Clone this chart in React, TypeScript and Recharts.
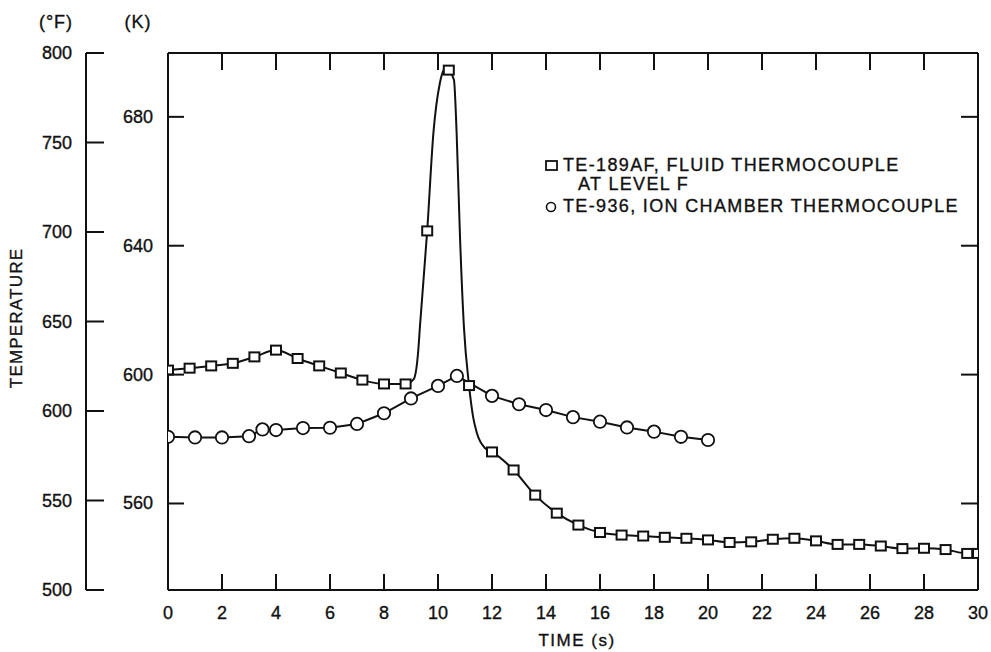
import React from 'react';
import { LineChart, Line, XAxis, YAxis, Legend } from 'recharts';

const FONT = "'Liberation Sans', Arial, Helvetica, sans-serif";

// TE-189AF fluid thermocouple, marked points (time s, temperature K)
const fluidTime = [0, 0.8, 1.6, 2.4, 3.2, 4.0, 4.8, 5.6, 6.4, 7.2, 8.0, 8.8, 9.6, 10.4, 11.15, 12.0, 12.8, 13.6, 14.4, 15.2, 16.0, 16.8, 17.6, 18.4, 19.2, 20.0, 20.8, 21.6, 22.4, 23.2, 24.0, 24.8, 25.6, 26.4, 27.2, 28.0, 28.8, 29.6, 30.0];
const fluidTemp = [601.4, 602.0, 602.7, 603.5, 605.5, 607.6, 605.0, 602.7, 600.5, 598.3, 597.1, 597.1, 644.6, 694.5, 596.6, 576.0, 570.4, 562.6, 557.0, 553.3, 551.0, 550.2, 549.9, 549.5, 549.2, 548.7, 547.9, 548.1, 548.9, 549.2, 548.4, 547.3, 547.3, 546.8, 546.0, 546.1, 545.7, 544.5, 544.5];

// extra readings of the drawn trace between the marks (spike region)
const fluidTraceTime = [9.1, 9.27, 9.33, 9.83, 10.07, 10.3, 10.59, 10.69, 10.81, 10.96, 11.3, 11.44, 11.74];
const fluidTraceTemp = [598.6, 607.6, 614.8, 675.0, 690.5, 695.3, 691.5, 675.0, 643.9, 614.8, 586.9, 581.9, 577.2];

// TE-936 ion chamber thermocouple
const ionTime = [0, 1, 2, 3, 3.5, 4, 5, 6, 7, 8, 9, 10, 10.7, 12, 13, 14, 15, 16, 17, 18, 19, 20];
const ionTemp = [580.7, 580.5, 580.5, 580.9, 583.0, 582.8, 583.4, 583.5, 584.7, 588.0, 592.6, 596.5, 599.6, 593.4, 590.8, 589.0, 586.8, 585.4, 583.6, 582.3, 580.7, 579.7];

const timeTicks = [0, 2, 4, 6, 8, 10, 12, 14, 16, 18, 20, 22, 24, 26, 28, 30];
const kelvinTicks = [560, 600, 640, 680];
const fahrenheitTicks = [500, 550, 600, 650, 700, 750, 800];

const fluidName = 'TE-189AF, FLUID THERMOCOUPLE';
const fluidName2 = 'AT LEVEL F';
const ionName = 'TE-936, ION CHAMBER THERMOCOUPLE';

// 500 F .. 800 F expressed in kelvin
const kMin = (500 - 32) * 5 / 9 + 273.15;
const kMax = (800 - 32) * 5 / 9 + 273.15;

const fluidMarks = fluidTime.map((t, i) => ({ time: t, temp: fluidTemp[i] }));
const fluidTrace = [
  ...fluidMarks,
  ...fluidTraceTime.map((t, i) => ({ time: t, temp: fluidTraceTemp[i] })),
].sort((a, b) => a.time - b.time);
const ionData = ionTime.map((t, i) => ({ time: t, temp: ionTemp[i] }));

const INK = '#111';
const txt = { fontFamily: FONT, fontSize: 18, fill: INK, stroke: INK, strokeWidth: 0.35 };

const FTick = (props: any) => {
  const { x, y, payload } = props;
  return (
    <g>
      <line x1={x} y1={y} x2={x + 18} y2={y} stroke={INK} strokeWidth={2} />
      <text x={x - 14} y={y} dy={6} textAnchor="end" {...txt}>{payload.value}</text>
    </g>
  );
};

const KTick = (props: any) => {
  const { x, y, payload } = props;
  return (
    <g>
      <line x1={x} y1={y} x2={x + 16} y2={y} stroke={INK} strokeWidth={2} />
      <text x={x - 15} y={y} dy={6} textAnchor="end" {...txt}>{payload.value}</text>
    </g>
  );
};

const TimeTick = (props: any) => {
  const { x, y, payload } = props;
  return (
    <g>
      <line x1={x} y1={y} x2={x} y2={y - 16} stroke={INK} strokeWidth={2} />
      <text x={x} y={y + 29} textAnchor="middle" {...txt}>{payload.value}</text>
    </g>
  );
};

// plain inward tick marks for the top and right frame edges
const TopTick = (props: any) => {
  const { x, y } = props;
  return <line x1={x} y1={y} x2={x} y2={y + 17} stroke={INK} strokeWidth={2} />;
};

const RightTick = (props: any) => {
  const { x, y } = props;
  return <line x1={x} y1={y} x2={x - 17} y2={y} stroke={INK} strokeWidth={2} />;
};

const squareDot = (props: any) => {
  const { cx, cy, index } = props;
  if (cx == null || cy == null) return <g key={`sq-${index}`} />;
  return <rect key={`sq-${index}`} x={cx - 5} y={cy - 4.5} width={10} height={9} fill="#fff" stroke={INK} strokeWidth={2} />;
};

const circleDot = (props: any) => {
  const { cx, cy, index } = props;
  if (cx == null || cy == null) return <g key={`ci-${index}`} />;
  return <circle key={`ci-${index}`} cx={cx} cy={cy} r={6.2} fill="#fff" stroke={INK} strokeWidth={1.8} />;
};

const LegendBox = (props: any) => {
  const items = (props.payload || []).filter((p: any) => p.value);
  return (
    <div style={{ fontFamily: FONT, fontSize: 18, letterSpacing: 1.35, color: INK, lineHeight: '19px', WebkitTextStroke: '0.35px #111' }}>
      {items.map((p: any) => (
        <div key={p.value} style={{ display: 'flex', alignItems: 'flex-start', marginBottom: 3 }}>
          <svg width={20} height={19} style={{ flex: 'none' }}>
            {p.value === fluidName
              ? <rect x={3} y={5} width={11} height={9} fill="none" stroke={INK} strokeWidth={1.8} />
              : <circle cx={8} cy={10} r={4.5} fill="none" stroke={INK} strokeWidth={1.6} />}
          </svg>
          <div>
            <div>{p.value}</div>
            {p.value === fluidName && <div style={{ paddingLeft: 15 }}>{fluidName2}</div>}
          </div>
        </div>
      ))}
    </div>
  );
};

const label = (style: React.CSSProperties): React.CSSProperties => ({
  position: 'absolute',
  transform: 'translate(-50%, -50%)',
  whiteSpace: 'nowrap',
  fontFamily: FONT,
  fontSize: 18,
  color: INK,
  WebkitTextStroke: '0.35px #111',
  ...style,
});

const App: React.FC = () => {
  return (
    <div style={{ position: 'absolute', left: 0, top: 0, width: 991, height: 652, background: '#fff' }}>
      <LineChart width={991} height={652} margin={{ top: 53, right: 13, bottom: 61, left: 0 }}>
        <XAxis xAxisId="bottom" type="number" dataKey="time" domain={[0, 30]} ticks={timeTicks} interval={0}
          allowDataOverflow height={1} tickSize={0} tickMargin={0} tick={<TimeTick />}
          axisLine={{ stroke: INK, strokeWidth: 2 }} tickLine={false} />
        <XAxis xAxisId="top" orientation="top" mirror type="number" dataKey="time" domain={[0, 30]} ticks={timeTicks}
          interval={0} allowDataOverflow tick={<TopTick />} tickSize={0} tickMargin={0} tickLine={false}
          axisLine={{ stroke: INK, strokeWidth: 2 }} />
        <YAxis yAxisId="inner" type="number" domain={[kMin, kMax]} ticks={kelvinTicks} interval={0} allowDataOverflow
          width={82} tickSize={0} tickMargin={0} tick={<KTick />} tickLine={false}
          axisLine={{ stroke: INK, strokeWidth: 2 }} />
        <YAxis yAxisId="outer" type="number" domain={[500, 800]} ticks={fahrenheitTicks} interval={0} allowDataOverflow
          width={86} tickSize={0} tickMargin={0} tick={<FTick />} tickLine={false}
          axisLine={{ stroke: INK, strokeWidth: 2 }} />
        <YAxis yAxisId="right" orientation="right" mirror type="number" domain={[kMin, kMax]} ticks={kelvinTicks}
          interval={0} allowDataOverflow tick={<RightTick />} tickSize={0} tickMargin={0} tickLine={false}
          axisLine={{ stroke: INK, strokeWidth: 2 }} />
        <Legend layout="vertical" align="center" verticalAlign="middle" content={<LegendBox />}
          wrapperStyle={{ left: 543, top: 156, width: 440 }} />
        <Line xAxisId="bottom" yAxisId="inner" data={fluidTrace} dataKey="temp" type="monotone" stroke={INK}
          strokeWidth={2} dot={false} activeDot={false} legendType="none" name="" isAnimationActive={false} />
        <Line xAxisId="bottom" yAxisId="inner" data={ionData} dataKey="temp" type="linear" stroke={INK}
          strokeWidth={2} dot={circleDot} activeDot={false} name={ionName} legendType="circle" isAnimationActive={false} />
        <Line xAxisId="bottom" yAxisId="inner" data={fluidMarks} dataKey="temp" stroke="none" dot={squareDot}
          activeDot={false} name={fluidName} legendType="square" isAnimationActive={false} />
      </LineChart>
      <div style={label({ left: 56, top: 22, letterSpacing: 1 })}>(°F)</div>
      <div style={label({ left: 138, top: 22, letterSpacing: 1 })}>(K)</div>
      <div style={label({ left: 17, top: 318, fontSize: 17, letterSpacing: 1.2, transform: 'translate(-50%, -50%) rotate(-90deg)' })}>TEMPERATURE</div>
      <div style={label({ left: 577, top: 641, fontSize: 17, letterSpacing: 1.5 })}>TIME (s)</div>
    </div>
  );
};

export default App;
